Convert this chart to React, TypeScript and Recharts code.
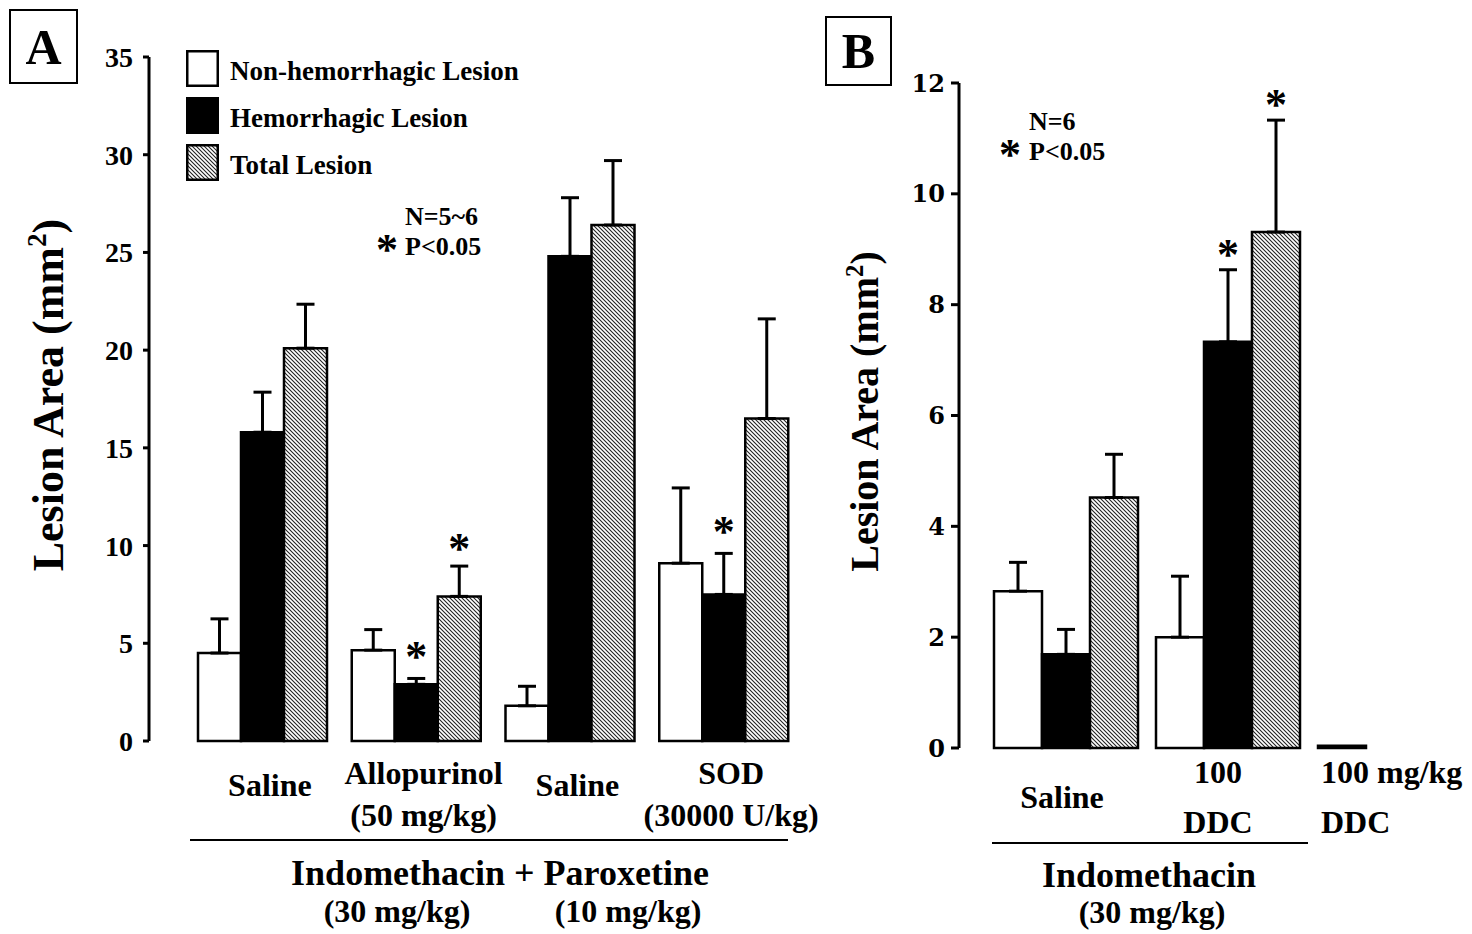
import React from 'react';
import { BarChart, Bar, XAxis, YAxis, ErrorBar, LabelList, Legend } from 'recharts';

const SERIF = '"Liberation Serif", "Times New Roman", serif';
const DEJAVU = '"DejaVu Serif", serif';

// ---------- Panel A data ----------
const groupsA = ['Saline', 'Allopurinol', 'Saline', 'SOD'];
const dosesA = ['', '(50 mg/kg)', '', '(30000 U/kg)'];
const nonHemA = [4.5, 4.65, 1.8, 9.1];
const nonHemErrA = [1.75, 1.05, 1.0, 3.85];
const hemA = [15.8, 2.9, 24.8, 7.5];
const hemErrA = [2.05, 0.3, 3.0, 2.1];
const totalA = [20.1, 7.4, 26.4, 16.5];
const totalErrA = [2.25, 1.55, 3.3, 5.1];
const hemSigA = [false, true, false, true];
const totalSigA = [false, true, false, false];
const yTicksA = [0, 5, 10, 15, 20, 25, 30, 35];

// ---------- Panel B data ----------
const groupsB = ['Saline', '100', '100 mg/kg'];
const subB = ['', 'DDC', 'DDC'];
const nonHemB = [2.83, 2.0, 0.04];
const nonHemErrB = [0.52, 1.1, null];
const hemB = [1.69, 7.33, 0];
const hemErrB = [0.45, 1.3, null];
const totalB = [4.52, 9.31, 0];
const totalErrB = [0.78, 2.02, null];
const hemSigB = [false, true, false];
const totalSigB = [false, true, false];
const yTicksB = [0, 2, 4, 6, 8, 10, 12];

const seriesNames = ['Non-hemorrhagic Lesion', 'Hemorrhagic Lesion', 'Total Lesion'];
const seriesFills = ['#ffffff', '#000000', 'url(#hatchPat)'];

const dataA = groupsA.map((g, i) => ({
  key: 'a' + i,
  non: nonHemA[i],
  nonErr: [0, nonHemErrA[i]],
  hem: hemA[i],
  hemErr: [0, hemErrA[i]],
  tot: totalA[i],
  totErr: [0, totalErrA[i]],
}));

const dataB = groupsB.map((g, i) => ({
  key: 'b' + i,
  non: nonHemB[i],
  nonErr: nonHemErrB[i] == null ? null : [0, nonHemErrB[i]],
  hem: hemB[i],
  hemErr: hemErrB[i] == null ? null : [0, hemErrB[i]],
  tot: totalB[i],
  totErr: totalErrB[i] == null ? null : [0, totalErrB[i]],
}));

const bold = { fontFamily: SERIF, fontWeight: 'bold' as const, fill: '#000' };

const makeStar = (vals: number[], errs: (number | null)[], sigs: boolean[], gap: number) => (p: any) => {
  const i = p.index;
  if (i == null || !sigs[i]) return null;
  const vb = p.viewBox || p;
  const h = Math.abs(vb.height);
  const top = Math.min(vb.y, vb.y + vb.height);
  const per = h / vals[i];
  const eTop = top - (errs[i] || 0) * per;
  const cy = eTop - gap;
  return (
    <text x={vb.x + vb.width / 2} y={cy + 21} textAnchor="middle" fontSize={44} {...bold}>
      *
    </text>
  );
};

const TickA = (props: any) => {
  const { x, y, index } = props;
  const name = groupsA[index];
  const dose = dosesA[index];
  const cx = x + 8;
  if (dose) {
    return (
      <g>
        <text x={cx} y={y + 32} textAnchor="middle" dominantBaseline="central" fontSize={32} {...bold}>{name}</text>
        <text x={cx} y={y + 74} textAnchor="middle" dominantBaseline="central" fontSize={32} {...bold}>{dose}</text>
      </g>
    );
  }
  return (
    <text x={cx} y={y + 44} textAnchor="middle" dominantBaseline="central" fontSize={32} {...bold}>{name}</text>
  );
};

const TickB = (props: any) => {
  const { x, y, index } = props;
  const name = groupsB[index];
  const sub = subB[index];
  if (!sub) {
    return (
      <text x={x - 4} y={y + 49} textAnchor="middle" dominantBaseline="central" fontSize={32} {...bold}>{name}</text>
    );
  }
  const anchor = index === 2 ? 'start' : 'middle';
  const tx = index === 2 ? x - 69 : x - 10;
  return (
    <g>
      <text x={tx} y={y + 24} textAnchor={anchor} dominantBaseline="central" fontSize={32} {...bold}>{name}</text>
      <text x={tx} y={y + 74} textAnchor={anchor} dominantBaseline="central" fontSize={32} {...bold}>{sub}</text>
    </g>
  );
};

const yLabel = (offsetX: number, size: number, dyc: number) => (p: any) => {
  const vb = p.viewBox || { x: 0, y: 0, width: 0, height: 0 };
  const cx = vb.x + offsetX;
  const cy = vb.y + vb.height / 2 + dyc;
  const sup = size * 0.62;
  const up = size * 0.24;
  return (
    <text
      x={cx}
      y={cy}
      transform={`rotate(-90 ${cx} ${cy})`}
      textAnchor="middle"
      dominantBaseline="central"
      fontSize={size}
      {...bold}
    >
      Lesion Area (mm
      <tspan fontSize={sup} dy={-up}>2</tspan>
      <tspan dy={up}>)</tspan>
    </text>
  );
};

const LegendA = () => (
  <div style={{ fontFamily: SERIF, fontWeight: 'bold', fontSize: 27, color: '#000' }}>
    {seriesNames.map((n, i) => (
      <div key={n} style={{ display: 'flex', alignItems: 'center', height: 47 }}>
        <svg width={33} height={37} style={{ display: 'block' }}>
          <rect x={1.25} y={1.25} width={30.5} height={34.5} fill={seriesFills[i]} stroke="#000" strokeWidth={2.5} />
        </svg>
        <span style={{ marginLeft: 11, position: 'relative', top: 3 }}>{n}</span>
      </div>
    ))}
  </div>
);

const Txt = ({ x, y, size, children, anchor = 'middle', family = SERIF }: any) => (
  <div
    style={{
      position: 'absolute',
      left: x,
      top: y,
      transform: `translate(${anchor === 'middle' ? '-50%' : '0'}, -50%)`,
      fontFamily: family,
      fontWeight: 'bold',
      fontSize: size,
      lineHeight: 1,
      whiteSpace: 'nowrap',
      color: '#000',
    }}
  >
    {children}
  </div>
);

const HLine = ({ x1, x2, y }: any) => (
  <div style={{ position: 'absolute', left: x1, top: y - 1.25, width: x2 - x1, height: 2.5, background: '#000' }} />
);

const Box = ({ x, y, w, h, letter }: any) => (
  <div
    style={{
      position: 'absolute',
      left: x,
      top: y,
      width: w,
      height: h,
      boxSizing: 'border-box',
      border: '2.5px solid #000',
      display: 'flex',
      alignItems: 'center',
      justifyContent: 'center',
      fontFamily: SERIF,
      fontWeight: 'bold',
      fontSize: 50,
      lineHeight: 1,
    }}
  >
    {letter}
  </div>
);

export default function App() {
  return (
    <div style={{ position: 'absolute', left: 0, top: 0, width: 1472, height: 934, background: '#fff', overflow: 'hidden' }}>
      <svg width={0} height={0} style={{ position: 'absolute' }}>
        <defs>
          <pattern id="hatchPat" patternUnits="userSpaceOnUse" width={4} height={4}>
            <rect width={4} height={4} fill="#fff" />
            <path d="M-1,-1 L5,5 M-1,3 L1,5 M3,-1 L5,1" stroke="#222" strokeWidth={1.1} />
          </pattern>
        </defs>
      </svg>

      {/* Panel A */}
      <div style={{ position: 'absolute', left: 0, top: 0 }}>
        <BarChart
          width={830}
          height={934}
          data={dataA}
          margin={{ top: 57, right: 30, bottom: 93, left: 0 }}
          barCategoryGap={13}
          barGap={0}
        >
          <XAxis
            dataKey="key"
            axisLine={false}
            tickLine={false}
            tickSize={0}
            tickMargin={0}
            height={100}
            padding={{ left: 36, right: 0 }}
            interval={0}
            tick={(p: any) => <TickA {...p} />}
          />
          <YAxis
            type="number"
            domain={[0, 35]}
            ticks={yTicksA}
            interval={0}
            width={149}
            axisLine={{ stroke: '#000', strokeWidth: 3 }}
            tickLine={{ stroke: '#000', strokeWidth: 3 }}
            tickSize={6}
            tickMargin={10}
            tick={{ fill: '#000', fontSize: 28, fontFamily: SERIF, fontWeight: 'bold' }}
            label={{ content: yLabel(48, 44, -4) }}
          />
          <Legend
            layout="vertical"
            align="center"
            verticalAlign="middle"
            wrapperStyle={{ left: 186, top: 45, width: 420 }}
            content={() => <LegendA />}
          />
          <Bar dataKey="non" name={seriesNames[0]} fill={seriesFills[0]} stroke="#000" strokeWidth={2.5} isAnimationActive={false}>
            <ErrorBar dataKey="nonErr" width={9} strokeWidth={3} stroke="#000" direction="y" isAnimationActive={false} />
          </Bar>
          <Bar dataKey="hem" name={seriesNames[1]} fill={seriesFills[1]} stroke="#000" strokeWidth={2.5} isAnimationActive={false}>
            <ErrorBar dataKey="hemErr" width={9} strokeWidth={3} stroke="#000" direction="y" isAnimationActive={false} />
            <LabelList dataKey="hem" content={makeStar(hemA, hemErrA, hemSigA, 28)} />
          </Bar>
          <Bar dataKey="tot" name={seriesNames[2]} fill={seriesFills[2]} stroke="#000" strokeWidth={2.5} isAnimationActive={false}>
            <ErrorBar dataKey="totErr" width={9} strokeWidth={3} stroke="#000" direction="y" isAnimationActive={false} />
            <LabelList dataKey="tot" content={makeStar(totalA, totalErrA, totalSigA, 24)} />
          </Bar>
        </BarChart>
      </div>

      {/* Panel B */}
      <div style={{ position: 'absolute', left: 830, top: 0 }}>
        <BarChart
          width={642}
          height={934}
          data={dataB}
          margin={{ top: 83, right: 1, bottom: 86, left: 0 }}
          barCategoryGap={9}
          barGap={0}
        >
          <XAxis
            dataKey="key"
            axisLine={false}
            tickLine={false}
            tickSize={0}
            tickMargin={0}
            height={100}
            padding={{ left: 26, right: 0 }}
            interval={0}
            tick={(p: any) => <TickB {...p} />}
          />
          <YAxis
            type="number"
            domain={[0, 12]}
            ticks={yTicksB}
            interval={0}
            width={129}
            axisLine={{ stroke: '#000', strokeWidth: 3 }}
            tickLine={{ stroke: '#000', strokeWidth: 3 }}
            tickSize={8}
            tickMargin={6}
            tick={{ fill: '#000', fontSize: 24, fontFamily: DEJAVU, fontWeight: 'bold' }}
            label={{ content: yLabel(34, 40, -4) }}
          />
          <Bar dataKey="non" name={seriesNames[0]} fill={seriesFills[0]} stroke="#000" strokeWidth={2.5} isAnimationActive={false}>
            <ErrorBar dataKey="nonErr" width={9} strokeWidth={3} stroke="#000" direction="y" isAnimationActive={false} />
          </Bar>
          <Bar dataKey="hem" name={seriesNames[1]} fill={seriesFills[1]} stroke="#000" strokeWidth={2.5} isAnimationActive={false}>
            <ErrorBar dataKey="hemErr" width={9} strokeWidth={3} stroke="#000" direction="y" isAnimationActive={false} />
            <LabelList dataKey="hem" content={makeStar(hemB, hemErrB, hemSigB, 22)} />
          </Bar>
          <Bar dataKey="tot" name={seriesNames[2]} fill={seriesFills[2]} stroke="#000" strokeWidth={2.5} isAnimationActive={false}>
            <ErrorBar dataKey="totErr" width={9} strokeWidth={3} stroke="#000" direction="y" isAnimationActive={false} />
            <LabelList dataKey="tot" content={makeStar(totalB, totalErrB, totalSigB, 22)} />
          </Bar>
        </BarChart>
      </div>

      {/* Panel letters */}
      <Box x={9} y={9} w={69} h={75} letter="A" />
      <Box x={825} y={16} w={67} h={70} letter="B" />

      {/* Panel A annotations */}
      <Txt x={405} y={217} size={26} anchor="start">N=5~6</Txt>
      <Txt x={387} y={250} size={44}>*</Txt>
      <Txt x={405} y={247} size={26} anchor="start">P&lt;0.05</Txt>

      <HLine x1={190} x2={788} y={840} />
      <Txt x={500} y={873} size={36}>Indomethacin + Paroxetine</Txt>
      <Txt x={397} y={911} size={32}>(30 mg/kg)</Txt>
      <Txt x={628} y={911} size={32}>(10 mg/kg)</Txt>

      {/* Panel B annotations */}
      <Txt x={1029} y={122} size={26} anchor="start">N=6</Txt>
      <Txt x={1010} y={155} size={44}>*</Txt>
      <Txt x={1029} y={152} size={26} anchor="start">P&lt;0.05</Txt>

      <HLine x1={992} x2={1308} y={843} />
      <Txt x={1149} y={875} size={36}>Indomethacin</Txt>
      <Txt x={1152} y={912} size={32}>(30 mg/kg)</Txt>
    </div>
  );
}
